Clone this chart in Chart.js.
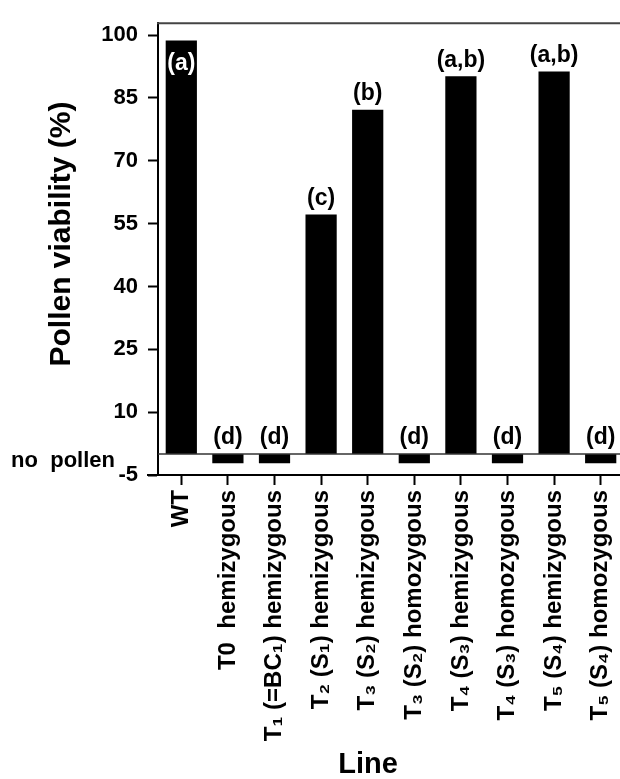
<!DOCTYPE html>
<html>
<head>
<meta charset="utf-8">
<script src="https://cdn.jsdelivr.net/npm/chart.js@4.4.1/dist/chart.umd.min.js"></script>
<style>
  html, body { margin: 0; padding: 0; background: #fff; overflow: hidden; }
</style>
</head>
<body>
<canvas id="grafico" width="650" height="779"></canvas>
<script>
// data
const lines = [
  'WT',
  'T0  hemizygous',
  'T\u2081 (=BC\u2081) hemizygous',
  'T\u2082 (S\u2081) hemizygous',
  'T\u2083 (S\u2082) hemizygous',
  'T\u2083 (S\u2082) homozygous',
  'T\u2084 (S\u2083) hemizygous',
  'T\u2084 (S\u2083) homozygous',
  'T\u2085 (S\u2084) hemizygous',
  'T\u2085 (S\u2084) homozygous'
];
const viability = [98.7, -2.2, -2.2, 57.2, 82.2, -2.2, 90.2, -2.2, 91.3, -2.2];
const groups = ['(a)', '(d)', '(d)', '(c)', '(b)', '(d)', '(a,b)', '(d)', '(a,b)', '(d)'];
const yTicks = [-5, 10, 25, 40, 55, 70, 85, 100];
const noPollenLabel = 'no  pollen';

const FONT = "'Liberation Sans', Arial, sans-serif";

const extras = {
  id: 'extras',
  afterDatasetsDraw(chart) {
    const ctx = chart.ctx;
    const area = chart.chartArea;
    const y = chart.scales.y;
    const meta = chart.getDatasetMeta(0);
    ctx.save();

    // zero line
    const y0 = y.getPixelForValue(0);
    ctx.strokeStyle = '#333';
    ctx.lineWidth = 1.5;
    ctx.beginPath();
    ctx.moveTo(area.left, y0);
    ctx.lineTo(area.right + 30, y0);
    ctx.stroke();

    // top frame line
    ctx.strokeStyle = '#444';
    ctx.lineWidth = 2;
    ctx.beginPath();
    ctx.moveTo(area.left - 1, area.top);
    ctx.lineTo(area.right + 30, area.top);
    ctx.stroke();

    // x axis line reaching past the y axis
    ctx.strokeStyle = '#000';
    ctx.beginPath();
    ctx.moveTo(area.left - 11, area.bottom);
    ctx.lineTo(area.left, area.bottom);
    ctx.stroke();

    // letters
    ctx.font = 'bold 23px ' + FONT;
    ctx.textAlign = 'center';
    ctx.textBaseline = 'middle';
    meta.data.forEach((bar, i) => {
      const v = viability[i];
      if (i === 0) {
        ctx.fillStyle = '#fff';
        ctx.fillText(groups[i], bar.x, y.getPixelForValue(v) + 23);
      } else {
        ctx.fillStyle = '#000';
        ctx.fillText(groups[i], bar.x, y.getPixelForValue(Math.max(v, 0)) - 16);
      }
    });

    // "no pollen" label
    ctx.font = 'bold 22px ' + FONT;
    ctx.fillStyle = '#000';
    ctx.textAlign = 'right';
    ctx.fillText(noPollenLabel, 115, y.getPixelForValue(-1.7));

    // axis titles
    ctx.font = 'bold 29px ' + FONT;
    ctx.textAlign = 'center';
    ctx.fillText('Line', 368, 765);
    ctx.font = 'bold 30px ' + FONT;
    ctx.translate(62, 234);
    ctx.rotate(-Math.PI / 2);
    ctx.fillText('Pollen viability (%)', 0, 0);

    ctx.restore();
  }
};

new Chart(document.getElementById('grafico'), {
  type: 'bar',
  data: {
    labels: lines,
    datasets: [{
      label: 'Pollen viability (%)',
      data: viability,
      backgroundColor: '#000',
      borderWidth: 0,
      barPercentage: 0.67,
      categoryPercentage: 1
    }]
  },
  options: {
    responsive: false,
    animation: false,
    devicePixelRatio: 1,
    layout: { padding: { top: 11, right: 26, left: 0, bottom: 0 } },
    plugins: {
      legend: { display: false },
      tooltip: { enabled: false }
    },
    scales: {
      x: {
        offset: true,
        grid: { offset: false, drawOnChartArea: false, tickLength: 10, tickWidth: 2, tickColor: '#000' },
        border: { color: '#000', width: 2 },
        ticks: {
          autoSkip: false,
          maxRotation: 90,
          minRotation: 90,
          padding: 5,
          color: '#000',
          font: { family: FONT, size: 24, weight: 'bold' }
        },
        afterFit(s) { s.height = 304; }
      },
      y: {
        min: -5,
        max: 102.85,
        afterBuildTicks(s) { s.ticks = yTicks.map(v => ({ value: v })); },
        grid: { drawOnChartArea: false, tickLength: 10, tickWidth: 2, tickColor: '#000' },
        border: { color: '#000', width: 2 },
        ticks: {
          padding: 10,
          color: '#000',
          font: { family: FONT, size: 22, weight: 'bold' }
        },
        afterFit(s) { s.width = 158; }
      }
    }
  },
  plugins: [extras]
});
</script>
</body>
</html>
